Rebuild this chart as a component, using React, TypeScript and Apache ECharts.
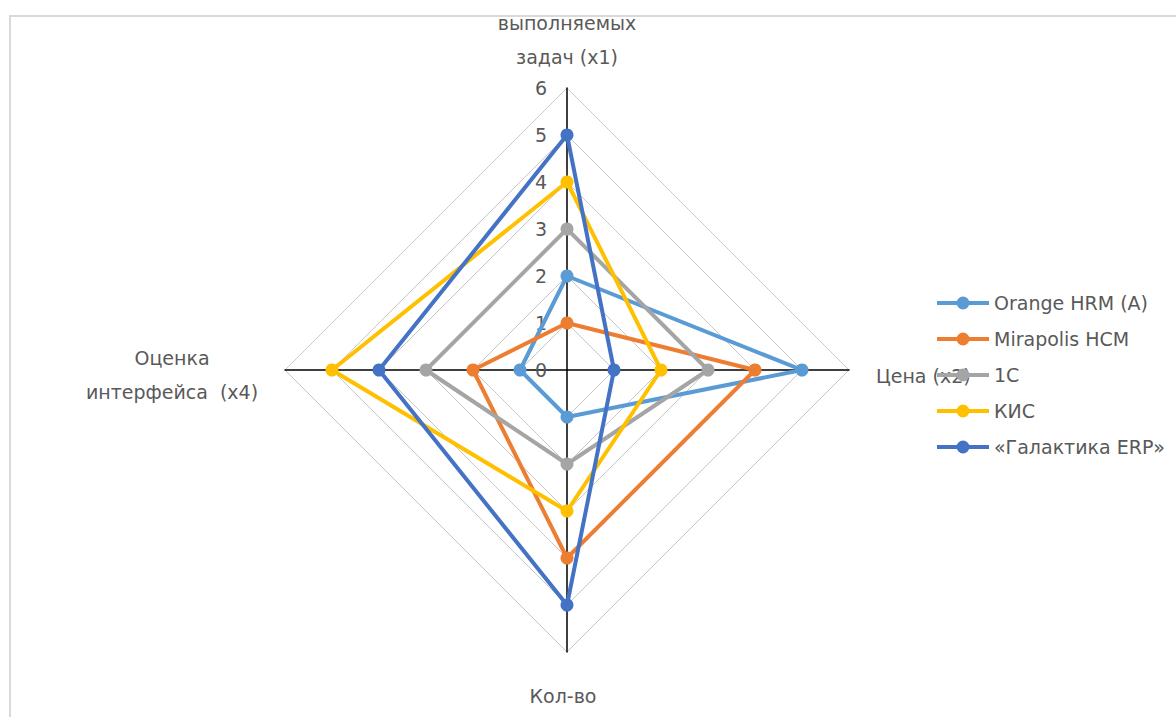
import React, { useEffect, useRef } from "react";
import * as echarts from "echarts";

// Axes (natural order: top, right, bottom, left)
const axisNames = ["выполняемых\nзадач (x1)", "Цена (x2)", "Кол-во", "Оценка\nинтерфейса  (x4)"];
const ticks = [0, 1, 2, 3, 4, 5, 6];

const seriesNames = ["Orange HRM (A)", "Mirapolis HCM", "1C", "КИС", "«Галактика ERP»"];
const seriesColors = ["#5B9BD5", "#ED7D31", "#A5A5A5", "#FFC000", "#4472C4"];
// values in order [top (x1), right (x2), bottom (Кол-во), left (x4)]
const orangeHrm = [2, 5, 1, 1];
const mirapolis = [1, 4, 4, 2];
const oneC = [3, 3, 2, 3];
const kis = [4, 2, 3, 5];
const galaktika = [5, 1, 5, 4];
const seriesValues = [orangeHrm, mirapolis, oneC, kis, galaktika];

const FONT = "DejaVu Sans";
const TXT = "#595959";

export default function App() {
  const ref = useRef<HTMLDivElement>(null);
  useEffect(() => {
    if (!ref.current) return;
    const chart = echarts.init(ref.current, undefined, { renderer: "svg" });
    const cx = 567;
    const cy = 370;
    const r = 282;
    // ECharts radar goes counter-clockwise from top: top, left, bottom, right
    const order = [0, 3, 2, 1];
    const maxV = ticks[ticks.length - 1];
    const icon =
      "path://M0,4.5L52,4.5L52,8.5L0,8.5Z M19.5,6.5a6.5,6.5 0 1,1 13,0a6.5,6.5 0 1,1 -13,0Z";
    chart.setOption({
      animation: false,
      textStyle: { fontFamily: FONT },
      radar: {
        center: [cx, cy],
        radius: r,
        startAngle: 90,
        shape: "polygon",
        splitNumber: ticks.length - 1,
        indicator: order.map((i) => ({ name: axisNames[i], min: 0, max: maxV })),
        axisName: { show: false },
        axisLine: { lineStyle: { color: "#000000", width: 1.5 } },
        axisTick: { show: false },
        axisLabel: { show: false },
        splitLine: { lineStyle: { color: "#C8C8C8", width: 1 } },
        splitArea: { show: false },
      },
      grid: { left: cx, top: cy - r, height: r, width: 1 },
      xAxis: { type: "value", show: false },
      yAxis: {
        type: "value",
        min: ticks[0],
        max: maxV,
        interval: 1,
        axisLine: { show: false },
        axisTick: { show: false },
        splitLine: { show: false },
        axisLabel: { color: TXT, fontSize: 19, fontFamily: FONT, margin: 20 },
      },
      legend: {
        orient: "vertical",
        left: 932,
        top: 287,
        itemWidth: 52,
        itemHeight: 13,
        itemGap: 14,
        icon,
        textStyle: { color: TXT, fontSize: 19, fontFamily: FONT, lineHeight: 22 },
        data: seriesNames,
        z: 10,
      },
      series: seriesNames.map((n, k) => ({
        type: "radar",
        name: n,
        symbol: "circle",
        symbolSize: 13,
        lineStyle: { width: 4, color: seriesColors[k] },
        itemStyle: { color: seriesColors[k], borderWidth: 0 },
        data: [
          {
            name: n,
            value: order.map((i) => seriesValues[k][i]),
            symbolSize: 13,
            lineStyle: { width: 4, color: seriesColors[k] },
          },
        ],
      })),
      graphic: [
        {
          type: "rect",
          shape: { x: 10, y: 16, width: 1400, height: 1000 },
          style: { fill: "none", stroke: "#D9D9D9", lineWidth: 2 },
          silent: true,
        },
        {
          type: "text",
          x: 567,
          y: 6,
          style: { text: axisNames[0], fill: TXT, font: `19px "${FONT}"`, textAlign: "center", lineHeight: 34 },
        },
        {
          type: "text",
          x: 876,
          y: 364,
          z: 0,
          style: { text: axisNames[1], fill: TXT, font: `19px "${FONT}"`, textAlign: "left", lineHeight: 24 },
        },
        {
          type: "text",
          x: 563,
          y: 684,
          style: { text: axisNames[2], fill: TXT, font: `19px "${FONT}"`, textAlign: "center", lineHeight: 24 },
        },
        {
          type: "text",
          x: 172,
          y: 341,
          style: { text: axisNames[3], fill: TXT, font: `19px "${FONT}"`, textAlign: "center", lineHeight: 34 },
        },
      ],
    });
    return () => chart.dispose();
  }, []);
  return (
    <div
      ref={ref}
      style={{ position: "fixed", left: 0, top: 0, width: 1176, height: 717, background: "#fff" }}
    />
  );
}
